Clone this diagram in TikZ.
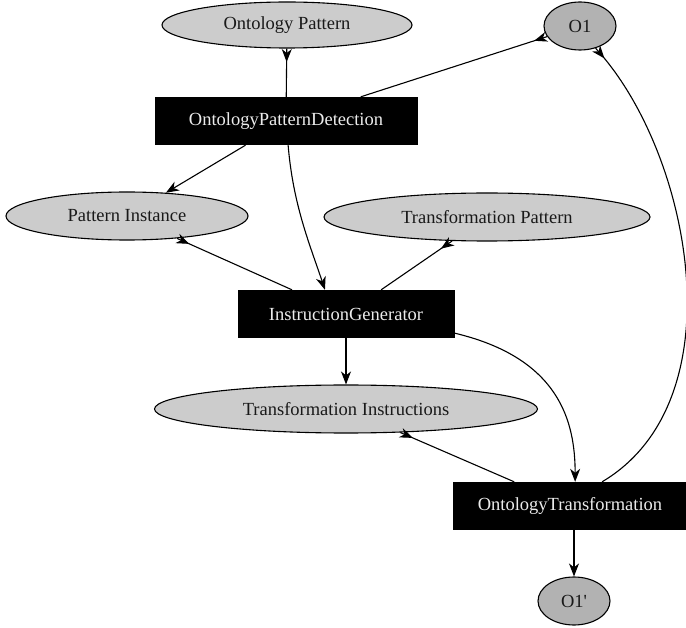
\documentclass[tikz,border=0pt]{standalone}
\usepackage{fontspec}
\setmainfont{Liberation Serif}
\usetikzlibrary{arrows.meta,shapes.geometric,decorations.markings}
\begin{document}
\begin{tikzpicture}[x=1pt,y=-1pt,
  every node/.style={font=\fontsize{18.5}{21}\selectfont, inner sep=0pt},
  lightell/.style={ellipse, draw=black, line width=1.1pt, fill=gray!40, text=black!90},
  darkell/.style={ellipse, draw=black, line width=1.1pt, fill=gray!60, text=black!90},
  procbox/.style={rectangle, fill=black, text=white!92!black, minimum height=48pt},
  conn/.style={line width=1.1pt, draw=black},
  headarrow/.style={-{Stealth[length=13pt,width=10pt,inset=4pt]}},
  tailarrow/.style={postaction={decorate}, decoration={markings,
      mark=at position 13.5pt with {\arrow{Stealth[length=13pt,width=10pt,inset=4pt]}}}}
]
\useasboundingbox (0,0) rectangle (686,628);

\node[lightell, minimum width=250pt, minimum height=46pt] (OP) at (287,25) {Ontology Pattern};
\node[darkell, minimum width=72pt, minimum height=48pt] (O1) at (580,26) {O1};
\node[procbox, minimum width=263pt] (OPD) at (286,121) {OntologyPatternDetection};
\node[lightell, minimum width=242pt, minimum height=48pt] (PI) at (127,216) {Pattern Instance};
\node[lightell, minimum width=326pt, minimum height=48pt] (TP) at (487,217) {Transformation Pattern};
\node[procbox, minimum width=217pt] (IG) at (346,314) {InstructionGenerator};
\node[lightell, minimum width=383pt, minimum height=48pt] (TI) at (346,409) {Transformation Instructions};
\node[procbox, minimum width=234pt] (OT) at (570,506) {OntologyTransformation};
\node[darkell, minimum width=72pt, minimum height=48pt] (O1p) at (574,601) {O1\textquotesingle};

\draw[conn, tailarrow] (OP) -- (OPD);
\draw[conn, tailarrow] (O1) -- (OPD);
\draw[conn, headarrow] (OPD) -- (PI);
\draw[conn, headarrow] (OPD.-85) .. controls +(5,60) and +(-15,-45) .. (IG.131);
\draw[conn, tailarrow] (PI) -- (IG);
\draw[conn, tailarrow] (TP) -- (IG);
\draw[conn, headarrow] (IG) -- (TI);
\draw[conn, headarrow] (IG.-10) .. controls +(105,25) and +(0,-60) .. (OT.78);
\draw[conn, tailarrow] (TI) -- (OT);
\draw[conn, tailarrow] (O1.-55) .. controls (690,150) and (740,400) .. (OT.37);
\draw[conn, headarrow] (OT.south -| O1p) -- (O1p);
\end{tikzpicture}
\end{document}
